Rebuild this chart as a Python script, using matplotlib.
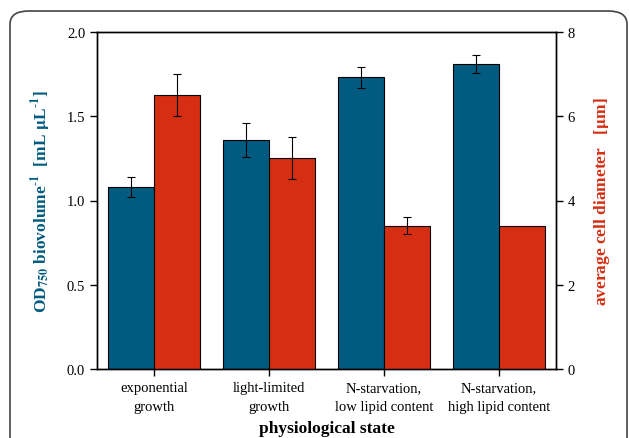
import matplotlib.pyplot as plt
from matplotlib.patches import FancyBboxPatch
import numpy as np

# datos
estados = ["exponential\ngrowth", "light-limited\ngrowth",
           "N-starvation,\nlow lipid content", "N-starvation,\nhigh lipid content"]
od_biovol = [1.08, 1.36, 1.73, 1.81]
od_err = [0.06, 0.10, 0.06, 0.055]
diametro = [6.5, 5.0, 3.4, 3.4]
diam_err = [0.5, 0.5, 0.2, 0]

azul = "#015B80"
rojo = "#D52E12"

plt.rcParams['font.family'] = ['Liberation Serif', 'DejaVu Serif']
plt.rcParams['mathtext.fontset'] = 'stix'

fig = plt.figure(figsize=(6.29, 4.39), dpi=100)
ax = fig.add_axes([97/629, 1 - 370/439, (556-97)/629, (370-33)/439])
ax2 = ax.twinx()

x = np.arange(len(estados))
w = 0.4
ax.bar(x - w/2, od_biovol, w, color=azul, edgecolor="black", linewidth=0.8,
       yerr=od_err, capsize=3, error_kw=dict(elinewidth=0.8, capthick=0.8))
ax2.bar(x + w/2, diametro, w, color=rojo, edgecolor="black", linewidth=0.8,
        yerr=[e if e > 0 else np.nan for e in diam_err], capsize=3,
        error_kw=dict(elinewidth=0.8, capthick=0.8))

ax.set_xlim(-0.5, 3.5)
ax.set_ylim(0, 2.0)
ax2.set_ylim(0, 8)
ax.set_yticks([0, 0.5, 1.0, 1.5, 2.0])
ax.set_yticklabels(["0.0", "0.5", "1.0", "1.5", "2.0"])
ax2.set_yticks([0, 2, 4, 6, 8])
ax.set_xticks(x)
ax.set_xticklabels(estados, fontsize=10.5, linespacing=1.6)

for a in (ax, ax2):
    a.tick_params(direction="out", length=5, width=1, labelsize=10.5, colors="black")
    for s in a.spines.values():
        s.set_linewidth(1)

ax.set_ylabel(r"OD$_{\mathbf{750}}$ biovolume$^{\mathbf{\text{-}1}}$  [mL $\mathbf{\mu}$L$^{\mathbf{\text{-}1}}$]",
              color=azul, fontsize=12.5, fontweight="bold", labelpad=10)
ax2.set_ylabel(r"average cell diameter   [$\mathbf{\mu}$m]", color=rojo,
               fontsize=12.5, fontweight="bold", labelpad=12)
ax.set_xlabel("physiological state", fontsize=12.5, fontweight="bold", labelpad=5.5)

# marco redondeado
marco = FancyBboxPatch((10/629, -0.2), (627-10)/629, 1.2 - 12/439,
                       boxstyle="round,pad=0,rounding_size=0.03",
                       transform=fig.transFigure, fill=False,
                       edgecolor="#444444", linewidth=1.2, clip_on=False)
fig.patches.append(marco)

fig.savefig("out.png", dpi=100)
